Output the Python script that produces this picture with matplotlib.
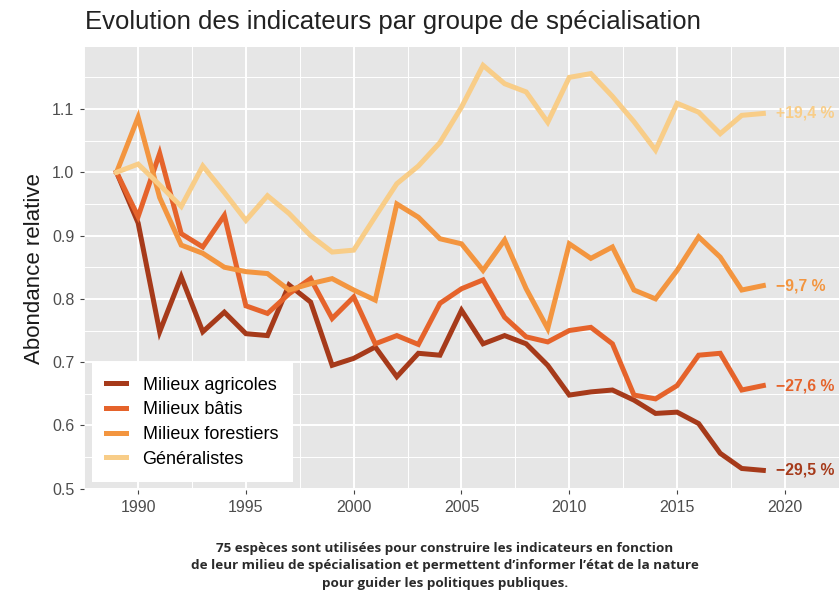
import matplotlib
matplotlib.use("Agg")
import matplotlib.pyplot as plt
from matplotlib.ticker import MultipleLocator

years = list(range(1989, 2020))

agricoles = [1.0, 0.92, 0.748, 0.835, 0.748, 0.779, 0.745, 0.742, 0.822, 0.795,
             0.695, 0.706, 0.724, 0.677, 0.714, 0.711, 0.782, 0.729, 0.742, 0.729,
             0.695, 0.648, 0.653, 0.656, 0.640, 0.619, 0.621, 0.603, 0.556, 0.532, 0.529]
batis = [1.0, 0.93, 1.03, 0.903, 0.882, 0.932, 0.789, 0.777, 0.808, 0.832,
         0.769, 0.803, 0.729, 0.742, 0.728, 0.793, 0.816, 0.830, 0.771, 0.740,
         0.732, 0.750, 0.755, 0.729, 0.648, 0.642, 0.663, 0.711, 0.714, 0.656, 0.663]
forestiers = [1.0, 1.087, 0.960, 0.885, 0.872, 0.850, 0.843, 0.840, 0.814, 0.824,
              0.832, 0.814, 0.798, 0.950, 0.929, 0.895, 0.887, 0.845, 0.893, 0.816,
              0.753, 0.887, 0.864, 0.882, 0.814, 0.800, 0.845, 0.898, 0.866, 0.814, 0.821]
generalistes = [1.0, 1.013, 0.980, 0.946, 1.010, 0.968, 0.924, 0.963, 0.935, 0.900,
                0.874, 0.877, 0.930, 0.982, 1.010, 1.047, 1.103, 1.169, 1.140, 1.127,
                1.079, 1.150, 1.156, 1.120, 1.080, 1.035, 1.109, 1.095, 1.061, 1.090, 1.093]

series_names = ["Milieux agricoles", "Milieux bâtis", "Milieux forestiers", "Généralistes"]
end_labels = ["\u221229,5 %", "\u221227,6 %", "\u22129,7 %", "+19,4 %"]
colors = ["#a63a1a", "#e5632b", "#f3953f", "#f8cd88"]

title = "Evolution des indicateurs par groupe de spécialisation"
ylabel = "Abondance relative"
caption = ("75 espèces sont utilisées pour construire les indicateurs en fonction\n"
           "de leur milieu de spécialisation et permettent d\u2019informer l\u2019état de la nature\n"
           "pour guider les politiques publiques.")

plt.rcParams['font.family'] = ['Liberation Sans', 'DejaVu Sans']

W, H = 839, 598
fig = plt.figure(figsize=(W / 100, H / 100), dpi=100)
fig.patch.set_facecolor("white")
ax = fig.add_axes([84 / W, 1 - 490 / H, (W - 84) / W, (490 - 47) / H])
ax.set_facecolor("#e6e6e6")

ax.set_xlim(1987.49, 2022.51)
ax.set_ylim(0.498, 1.198)
ax.xaxis.set_major_locator(MultipleLocator(5))
ax.xaxis.set_minor_locator(MultipleLocator(2.5))
ax.yaxis.set_major_locator(MultipleLocator(0.1))
ax.yaxis.set_minor_locator(MultipleLocator(0.05))
ax.grid(which="major", color="white", linewidth=1.4)
ax.grid(which="minor", color="white", linewidth=0.7)
ax.set_axisbelow(True)
for s in ax.spines.values():
    s.set_visible(False)
ax.tick_params(which="major", length=3, color="#444444", labelsize=11.5,
               labelcolor="#4d4d4d", pad=4)
ax.tick_params(which="minor", length=0)
ax.set_xticks([1990, 1995, 2000, 2005, 2010, 2015, 2020])
ax.set_xticklabels(["1990", "1995", "2000", "2005", "2010", "2015", "2020"])
ax.set_yticks([0.5, 0.6, 0.7, 0.8, 0.9, 1.0, 1.1])
ax.set_yticklabels(["0.5", "0.6", "0.7", "0.8", "0.9", "1.0", "1.1"])

data = [agricoles, batis, forestiers, generalistes]
handles = []
for name, vals, c, lab in zip(series_names, data, colors, end_labels):
    h, = ax.plot(years, vals, color=c, linewidth=3.6, solid_joinstyle="miter",
                 label=name, clip_on=True)
    handles.append(h)
    ax.text(years[-1] + 0.6, vals[-1], lab, color=c, fontsize=11.3,
            fontweight="bold", ha="left", va="center", clip_on=False)

leg = ax.legend(handles=handles, loc="lower left", bbox_to_anchor=(8 / 755, 8 / 443),
                fontsize=13, frameon=True, fancybox=False, framealpha=1,
                edgecolor="white", handlelength=1.1, handletextpad=0.9,
                labelspacing=0.42, borderpad=0.8, borderaxespad=0)
leg.get_frame().set_linewidth(0)

ax.set_ylabel(ylabel, fontsize=16, color="#1a1a1a", labelpad=5)

fig.text(85 / W, 1 - 22 / H, title, fontsize=18.5, color="#222222",
         ha="left", va="center")

fig.text(445 / W, 1 - 566 / H, caption, fontsize=9.7, fontweight="bold",
         family=["Open Sans", "DejaVu Sans"], color="#2a2a2a", ha="center",
         va="center", linespacing=1.45)

fig.savefig("out.png", dpi=100, facecolor="white")
